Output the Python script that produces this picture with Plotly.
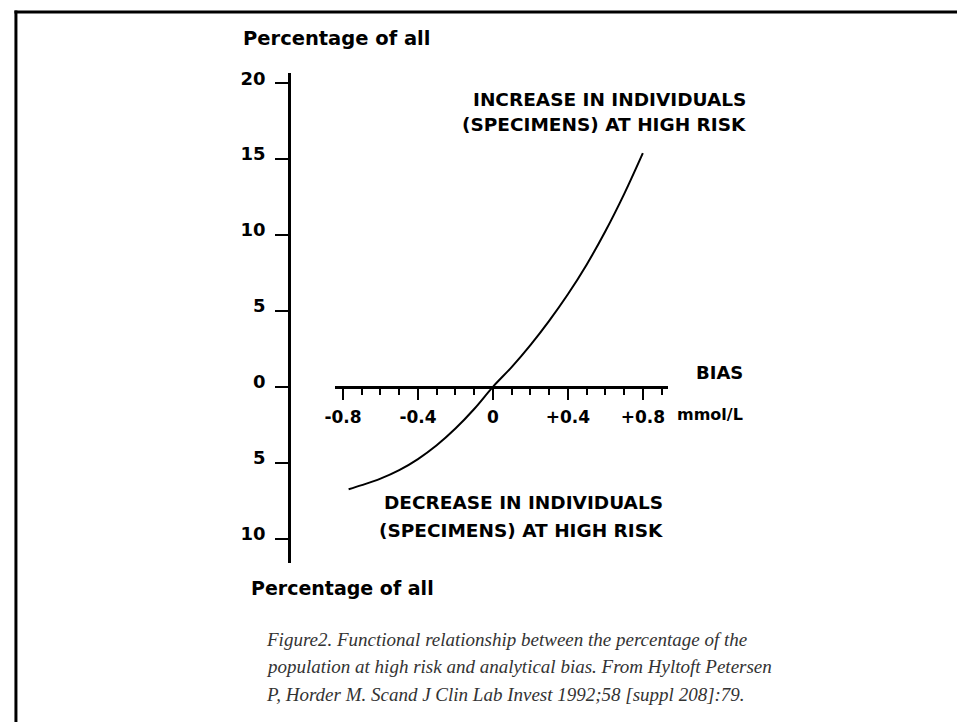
import plotly.graph_objects as go

# ---- data ----
bias = [-0.77, -0.7, -0.6, -0.5, -0.4, -0.3, -0.2, -0.1, 0.0,
        0.1, 0.2, 0.3, 0.4, 0.5, 0.6, 0.7, 0.8]
pct = [-6.75, -6.48, -6.05, -5.49, -4.76, -3.85, -2.75, -1.46, 0.0,
       1.3, 2.75, 4.35, 6.1, 8.05, 10.25, 12.7, 15.4]

x_tickvals = [-0.8, -0.4, 0, 0.4, 0.8]
x_ticktext = ["-0.8", "-0.4", "0", "+0.4", "+0.8"]
y_tickvals = [20, 15, 10, 5, 0, -5, -10]
y_ticktext = ["20", "15", "10", "5", "0", "5", "10"]

caption_lines = [
    "Figure2. Functional relationship between the percentage of the",
    "population at high risk and analytical bias. From Hyltoft Petersen",
    "P, Horder M. Scand J Clin Lab Invest 1992;58 [suppl 208]:79.",
]

W, H = 957, 722


def px(x):
    return x / W


def py(y):
    return 1 - y / H


SANS = dict(family="DejaVu Sans", color="black", weight="bold")

fig = go.Figure()
fig.add_trace(go.Scatter(x=bias, y=pct, mode="lines",
                         line=dict(color="black", width=2, shape="spline", smoothing=1),
                         hoverinfo="skip", showlegend=False))

fig.update_layout(
    width=W, height=H, autosize=False,
    margin=dict(l=0, r=0, t=0, b=0),
    paper_bgcolor="white", plot_bgcolor="white",
    showlegend=False,
    xaxis=dict(
        domain=[px(328), px(665)], range=[-0.845, 0.9345],
        anchor="free", position=py(384),
        showgrid=False, zeroline=False,
        showline=True, linecolor="black", linewidth=2.5,
        tickmode="array", tickvals=x_tickvals, ticktext=x_ticktext,
        ticks="outside", ticklen=11, tickwidth=2, tickcolor="black",
        ticklabelstandoff=3,
        tickfont=dict(size=17, **SANS),
        minor=dict(ticks="outside", ticklen=6, tickwidth=1.5, tickcolor="black",
                   dtick=0.1, tick0=0, showgrid=False),
    ),
    yaxis=dict(
        domain=[py(562), py(68)], range=[-11.63, 20.65],
        anchor="free", position=px(282),
        showgrid=False, zeroline=False,
        showline=True, linecolor="black", linewidth=3,
        tickmode="array", tickvals=y_tickvals, ticktext=y_ticktext,
        ticks="outside", ticklen=13, tickwidth=2, tickcolor="black",
        ticklabelstandoff=6, ticklabelshift=-5,
        tickfont=dict(size=18, **SANS),
    ),
)

ann = []


def add_text(text, x, y, size, xanchor="left", font=None):
    f = dict(size=size, **(font or SANS))
    ann.append(dict(text=text, x=px(x), y=py(y), xref="paper", yref="paper",
                    xanchor=xanchor, yanchor="middle", showarrow=False, font=f))


add_text("Percentage of all", 233, 33, 19.5)
add_text("Percentage of all", 242, 587, 19)
add_text("INCREASE IN INDIVIDUALS", 746, 94, 18.5, xanchor="right")
add_text("(SPECIMENS) AT HIGH RISK", 746, 119, 18.5, xanchor="right")
add_text("DECREASE IN INDIVIDUALS", 662, 501, 18.5, xanchor="right")
add_text("(SPECIMENS) AT HIGH RISK", 662, 529, 18.5, xanchor="right")
add_text("BIAS", 743, 370, 18, xanchor="right")
add_text("mmol/L", 743, 412, 16, xanchor="right")

SERIF = dict(family="Liberation Serif", color="#333333", style="italic")
for i, line in enumerate(caption_lines):
    add_text(line, 257, 639 + 27.5 * i, 19, font=SERIF)

fig.update_layout(annotations=ann)

# frame lines (top and left edges of the cropped figure)
fig.update_layout(shapes=[
    dict(type="line", xref="paper", yref="paper", x0=px(4.5), x1=1, y0=py(6), y1=py(6),
         line=dict(color="black", width=3)),
    dict(type="line", xref="paper", yref="paper", x0=px(6), x1=px(6), y0=py(4.5), y1=0,
         line=dict(color="black", width=3)),
])

fig.write_html("out.html", config={"displayModeBar": False},
               post_script="document.body.style.margin='0';")
